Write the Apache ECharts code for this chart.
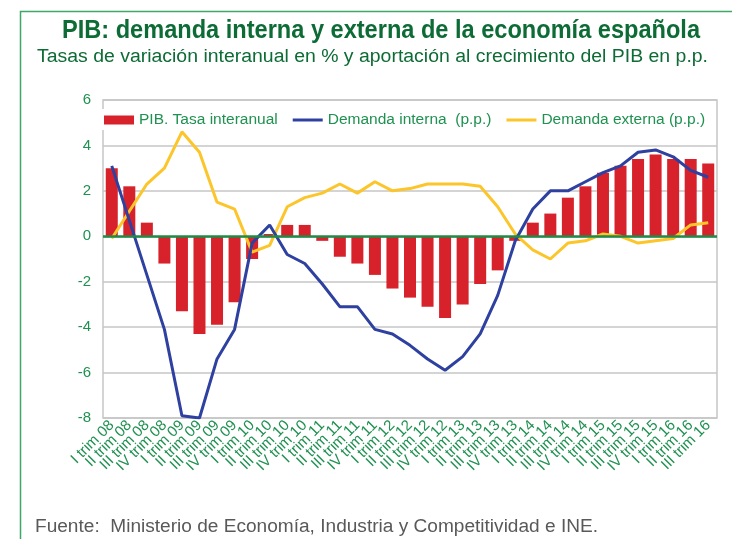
<!DOCTYPE html>
<html>
<head>
<meta charset="utf-8">
<script src="https://cdn.jsdelivr.net/npm/echarts@6/dist/echarts.min.js"></script>
<style>
	html, body { margin: 0; padding: 0; background: #fff; }
	#chart { width: 732px; height: 539px; }
</style>
</head>
<body>
<div id="chart"></div>
<script>
// trimestres, I trim 08 .. III trim 16
var trimestres = [
	'I trim 08', 'II trim 08', 'III trim 08', 'IV trim 08',
	'I trim 09', 'II trim 09', 'III trim 09', 'IV trim 09',
	'I trim 10', 'II trim 10', 'III trim 10', 'IV trim 10',
	'I trim 11', 'II trim 11', 'III trim 11', 'IV trim 11',
	'I trim 12', 'II trim 12', 'III trim 12', 'IV trim 12',
	'I trim 13', 'II trim 13', 'III trim 13', 'IV trim 13',
	'I trim 14', 'II trim 14', 'III trim 14', 'IV trim 14',
	'I trim 15', 'II trim 15', 'III trim 15', 'IV trim 15',
	'I trim 16', 'II trim 16', 'III trim 16'
];

// PIB. Tasa interanual (%)
var pibTasa = [
	3.0, 2.2, 0.6, -1.2,
	-3.3, -4.3, -3.9, -2.9,
	-1.0, 0.1, 0.5, 0.5,
	-0.2, -0.9, -1.2, -1.7,
	-2.3, -2.7, -3.1, -3.6,
	-3.0, -2.1, -1.5, -0.2,
	0.6, 1.0, 1.7, 2.2,
	2.8, 3.1, 3.4, 3.6,
	3.4, 3.4, 3.2
];

// Demanda interna (p.p.)
var demInterna = [
	3.1, 0.7, -1.7, -4.1,
	-7.9, -8.0, -5.4, -4.1,
	-0.3, 0.5, -0.8, -1.2,
	-2.1, -3.1, -3.1, -4.1,
	-4.3, -4.8, -5.4, -5.9,
	-5.3, -4.3, -2.6, -0.2,
	1.2, 2.0, 2.0, 2.4,
	2.8, 3.1, 3.7, 3.8,
	3.5, 2.9, 2.6
];

// Demanda externa (p.p.)
var demExterna = [
	-0.1, 1.1, 2.3, 3.0,
	4.6, 3.7, 1.5, 1.2,
	-0.7, -0.4, 1.3, 1.7,
	1.9, 2.3, 1.9, 2.4,
	2.0, 2.1, 2.3, 2.3,
	2.3, 2.2, 1.3, 0.1,
	-0.6, -1.0, -0.3, -0.2,
	0.1, 0.0, -0.3, -0.2,
	-0.1, 0.5, 0.6
];

var titulo = 'PIB: demanda interna y externa de la economía española',
	subtitulo = 'Tasas de variación interanual en % y aportación al crecimiento del PIB en p.p.',
	fuente = 'Fuente:  Ministerio de Economía, Industria y Competitividad e INE.';

var verde = '#1f9150',
	verdeOscuro = '#0d6b35',
	gris = '#c6c6c6';

var fTitulo = 'bold 25px "Liberation Sans", Arial, sans-serif',
	fSub = '18px "Liberation Sans", Arial, sans-serif',
	fFuente = '18px "Liberation Sans", Arial, sans-serif';

// ajustar ancho del texto al del original
var ctx = document.createElement('canvas').getContext('2d');
function escala(texto, font, ancho) {
	ctx.font = font;
	return ancho / ctx.measureText(texto).width;
}

// icono de linea fino para la leyenda (los puntos sueltos fijan la caja 30x9)
var iconoLinea = 'path://M0,0L0,0M0,3L30,3L30,6L0,6ZM30,9L30,9';

var myChart = echarts.init(document.getElementById('chart'));

var option = {
	animation: false,
	textStyle: {
		fontFamily: '"Liberation Sans", Arial, sans-serif'
	},
	graphic: [
		// marco verde
		{
			type: 'polyline',
			shape: { points: [[20.5, 539], [20.5, 11.5], [732, 11.5]] },
			style: { stroke: '#3da868', lineWidth: 1.5, fill: null }
		},
		{
			type: 'text',
			x: 381, y: 31,
			scaleX: escala(titulo, fTitulo, 638),
			style: {
				text: titulo,
				fill: verdeOscuro,
				font: fTitulo,
				align: 'center',
				verticalAlign: 'middle'
			}
		},
		{
			type: 'text',
			x: 372.5, y: 57,
			scaleX: escala(subtitulo, fSub, 671),
			style: {
				text: subtitulo,
				fill: verdeOscuro,
				font: fSub,
				align: 'center',
				verticalAlign: 'middle'
			}
		},
		{
			type: 'text',
			x: 35, y: 527,
			scaleX: escala(fuente, fFuente, 563),
			style: {
				text: fuente,
				fill: '#595959',
				font: fFuente,
				verticalAlign: 'middle'
			}
		}
	],
	grid: {
		left: 103,
		right: 15,
		top: 100,
		bottom: 121,
		show: true,
		borderColor: gris,
		borderWidth: 1.5,
		backgroundColor: 'transparent'
	},
	legend: {
		left: 100,
		top: 109,
		width: 614,
		backgroundColor: '#fff',
		padding: [3, 4, 2, 4],
		itemGap: 15,
		itemWidth: 30,
		itemHeight: 9,
		textStyle: {
			color: verde,
			fontSize: 15.5
		},
		data: [
			{ name: 'PIB. Tasa interanual', icon: 'rect' },
			{ name: 'Demanda interna  (p.p.)', icon: iconoLinea },
			{ name: 'Demanda externa (p.p.)', icon: iconoLinea }
		]
	},
	xAxis: {
		type: 'category',
		data: trimestres,
		axisLine: { show: false },
		axisTick: { show: false },
		axisLabel: {
			interval: 0,
			rotate: 45,
			color: verde,
			fontSize: 15,
			margin: 5
		},
		splitLine: { show: false }
	},
	yAxis: {
		type: 'value',
		min: -8,
		max: 6,
		interval: 2,
		axisLine: { show: false },
		axisTick: { show: false },
		axisLabel: {
			color: verde,
			fontSize: 15,
			margin: 12
		},
		splitLine: {
			lineStyle: { color: gris, width: 1.5 }
		}
	},
	series: [
		{
			name: 'PIB. Tasa interanual',
			type: 'bar',
			data: pibTasa,
			barWidth: 12,
			itemStyle: { color: '#d7212b' },
			markLine: {
				silent: true,
				symbol: 'none',
				label: { show: false },
				lineStyle: { color: '#1e8c47', width: 2.5, type: 'solid' },
				data: [{ yAxis: 0 }]
			}
		},
		{
			name: 'Demanda interna  (p.p.)',
			type: 'line',
			data: demInterna,
			symbol: 'none',
			z: 4,
			lineStyle: { color: '#2e40a0', width: 3 },
			itemStyle: { color: '#2e40a0' }
		},
		{
			name: 'Demanda externa (p.p.)',
			type: 'line',
			data: demExterna,
			symbol: 'none',
			z: 3,
			lineStyle: { color: '#fcc52a', width: 3 },
			itemStyle: { color: '#fcc52a' }
		}
	]
};

myChart.setOption(option);
</script>
</body>
</html>
